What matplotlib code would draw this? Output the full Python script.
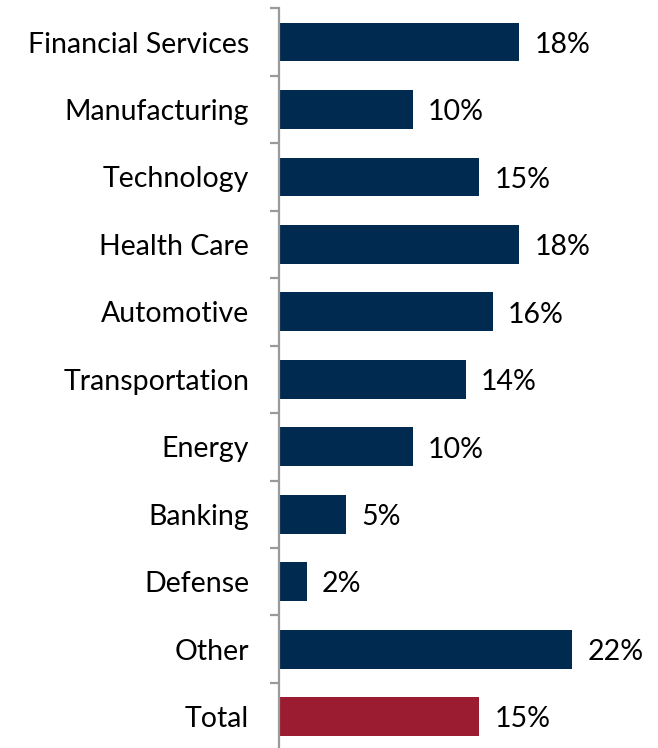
import matplotlib.pyplot as plt
import numpy as np

sectors = ["Financial Services", "Manufacturing", "Technology", "Health Care",
           "Automotive", "Transportation", "Energy", "Banking", "Defense",
           "Other", "Total"]
pct = [18, 10, 15, 18, 16, 14, 10, 5, 2, 22, 15]

navy = "#002a4f"
red = "#9b1b30"
colors = [navy] * (len(sectors) - 1) + [red]

plt.rcParams['font.family'] = ['Lato', 'DejaVu Sans']

fig = plt.figure(figsize=(6.58, 7.48), dpi=100)
ax = fig.add_axes([279 / 658, -2.4 / 748, 1 - 279 / 658, 742.1 / 748])

y = np.arange(len(sectors))
ax.barh(y, pct, height=0.575, color=colors, left=0.07)
for yi, v in zip(y, pct):
    ax.text(v + 1.2, yi + 0.04, f"{v}%", va="center", ha="left", fontsize=20.5, color="black")

ax.set_ylim(len(sectors) - 0.5, -0.5)
ax.set_xlim(0, 28.5)
ax.set_yticks(y)
ax.set_yticklabels(sectors, fontsize=20.5)
ax.tick_params(axis="y", which="major", length=0, pad=21.5)
ax.set_yticks(np.arange(len(sectors)) - 0.5, minor=True)
ax.tick_params(axis="y", which="minor", length=6.5, width=1.6, color="#9a9a9a", direction="out")
ax.set_xticks([])

for s in ["top", "right", "bottom"]:
    ax.spines[s].set_visible(False)
ax.spines["left"].set_color("#9a9a9a")
ax.spines["left"].set_linewidth(1.6)

fig.savefig("out.png", dpi=100)
